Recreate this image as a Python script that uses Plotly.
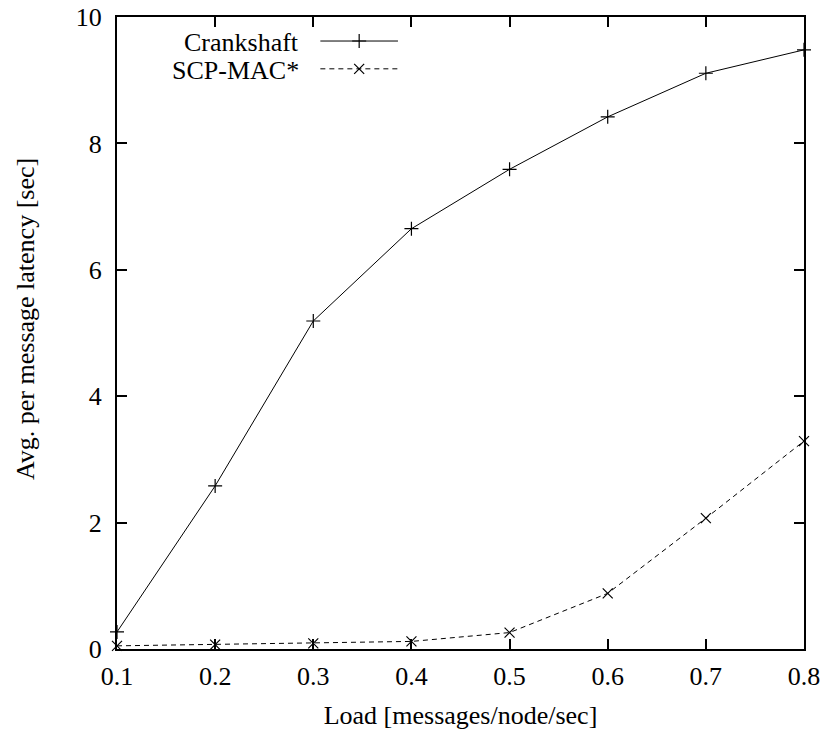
import plotly.graph_objects as go

load = [0.1, 0.2, 0.3, 0.4, 0.5, 0.6, 0.7, 0.8]
crankshaft = [0.27, 2.58, 5.19, 6.65, 7.59, 8.42, 9.11, 9.48]
scpmac = [0.05, 0.07, 0.09, 0.12, 0.26, 0.88, 2.07, 3.29]
x_ticks = [0.1, 0.2, 0.3, 0.4, 0.5, 0.6, 0.7, 0.8]
y_ticks = [0, 2, 4, 6, 8, 10]
series_names = ["Crankshaft", "SCP-MAC*"]

FONT = "Liberation Serif, Times New Roman, serif"
FS = 26
fig = go.Figure()

fig.add_trace(go.Scatter(
    x=load, y=crankshaft, mode="lines+markers", name=series_names[0],
    line=dict(color="black", width=1),
    marker=dict(symbol="cross-thin", size=10, line=dict(color="black", width=1.2)),
    cliponaxis=False, showlegend=False))
fig.add_trace(go.Scatter(
    x=load, y=scpmac, mode="lines+markers", name=series_names[1],
    line=dict(color="black", width=1, dash="5px,4px"),
    marker=dict(symbol="x-thin", size=10, line=dict(color="black", width=1.2)),
    cliponaxis=False, showlegend=False))

# manual legend (gnuplot style: text left, sample on the right)
leg_y = [0.959, 0.915]
leg_x_text = 0.268
leg_x0, leg_x1 = 0.296, 0.409
for i, (nm, dash, sym) in enumerate(zip(series_names, ["solid", "5px,4px"], ["cross-thin", "x-thin"])):
    fig.add_annotation(x=leg_x_text, y=leg_y[i], xref="paper", yref="paper",
                       text=nm, showarrow=False, xanchor="right", yanchor="middle",
                       font=dict(family=FONT, size=FS, color="black"))
    fig.add_trace(go.Scatter(
        x=[leg_x0, (leg_x0 + leg_x1) / 2, leg_x1], y=[leg_y[i] + 0.003] * 3,
        xaxis="x2", yaxis="y2", mode="lines",
        line=dict(color="black", width=1, dash=dash), showlegend=False, hoverinfo="skip"))
    fig.add_trace(go.Scatter(
        x=[(leg_x0 + leg_x1) / 2], y=[leg_y[i] + 0.003],
        xaxis="x2", yaxis="y2", mode="markers",
        marker=dict(symbol=sym, size=10, line=dict(color="black", width=1.2)),
        showlegend=False, hoverinfo="skip"))

# y-axis title (as rotated annotation to match placement)
fig.add_annotation(x=-0.134, y=0.522, xref="paper", yref="paper",
                   text="Avg. per message latency [sec]", textangle=-90, showarrow=False,
                   xanchor="center", yanchor="middle",
                   font=dict(family=FONT, size=FS, color="black"))

axis_common = dict(showgrid=False, zeroline=False, showline=True, linecolor="black",
                   linewidth=2, mirror="ticks", ticks="inside", ticklen=10,
                   tickwidth=1.5, tickcolor="black", automargin=False,
                   tickfont=dict(family=FONT, size=FS, color="black"))

fig.update_layout(
    width=828, height=741,
    margin=dict(l=117, r=24, t=17, b=92, autoexpand=False),
    paper_bgcolor="white", plot_bgcolor="white",
    xaxis=dict(range=[0.1, 0.8], tickvals=x_ticks, ticktext=[f"{v:.1f}" for v in x_ticks],
               ticklabelstandoff=3,
               title=dict(text="Load [messages/node/sec]", font=dict(family=FONT, size=FS, color="black"), standoff=16),
               **axis_common),
    yaxis=dict(range=[0, 10], tickvals=y_ticks, ticktext=[str(v) for v in y_ticks],
               ticklabelstandoff=8,
               **axis_common),
    xaxis2=dict(range=[0, 1], overlaying="x", visible=False),
    yaxis2=dict(range=[0, 1], overlaying="y", visible=False),
    showlegend=False,
)

fig.write_html("out.html")
